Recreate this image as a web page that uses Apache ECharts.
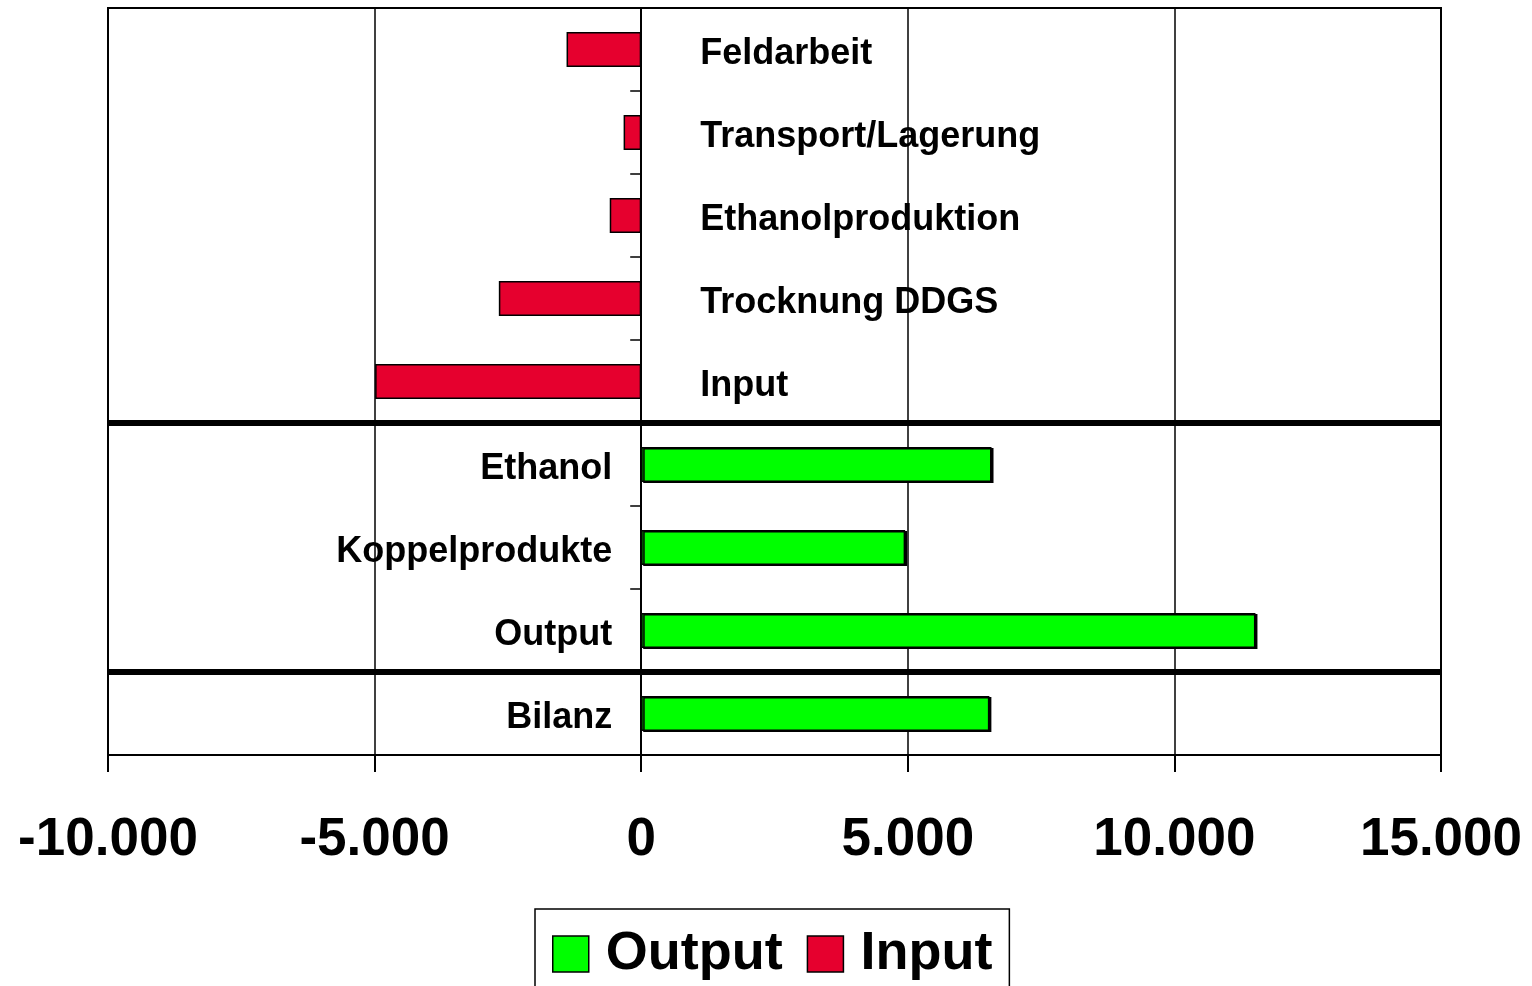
<!DOCTYPE html>
<html>
<head>
<meta charset="utf-8">
<script src="https://cdn.jsdelivr.net/npm/echarts@6/dist/echarts.min.js"></script>
<style>html,body{margin:0;padding:0;background:#fff}#c{width:1532px;height:986px}</style>
</head>
<body>
<div id="c"></div>
<script>
var categories = ['Feldarbeit','Transport/Lagerung','Ethanolproduktion','Trocknung DDGS','Input','Ethanol','Koppelprodukte','Output','Bilanz'];
var inputValues = [-1400, -330, -590, -2670, -4990, null, null, null, null];
var outputValues = [null, null, null, null, null, 6570, 4950, 11520, 6530];
var groupBreaks = [5, 8];
var xMin = -10000, xMax = 15000, xStep = 5000;

var FONT = "'Liberation Sans', Arial, Helvetica, sans-serif";
function fmt(v){
  var s = Math.abs(v).toString().replace(/\B(?=(\d{3})+(?!\d))/g, '.');
  return (v < 0 ? '-' : '') + s;
}

var chart = echarts.init(document.getElementById('c'));
chart.setOption({
  animation: false,
  backgroundColor: '#fff',
  grid: { left: 108, right: 91, top: 8, bottom: 231, show: true, borderColor: '#000', borderWidth: 2, backgroundColor: 'transparent' },
  legend: {
    data: ['Output', 'Input'],
    top: 909, left: 535,
    padding: [15, 17, 40, 17],
    itemWidth: 36, itemHeight: 36, itemGap: 24,
    borderColor: '#000', borderWidth: 1.5,
    icon: 'rect',
    itemStyle: { borderColor: '#000', borderWidth: 1.5 },
    textStyle: { fontFamily: FONT, fontSize: 54, fontWeight: 'bold', color: '#000', padding: [0, 0, 0, 12], lineHeight: 60 }
  },
  xAxis: {
    type: 'value', min: xMin, max: xMax, interval: xStep,
    axisLine: { show: true, onZero: false, lineStyle: { color: '#000', width: 2 } },
    axisTick: { show: true, length: 17, lineStyle: { color: '#000', width: 2 } },
    splitLine: { show: true, lineStyle: { color: '#000', width: 1.5 } },
    axisLabel: { formatter: fmt, fontFamily: FONT, fontSize: 53, fontWeight: 'bold', color: '#000', margin: 59 }
  },
  yAxis: [{
    type: 'category', data: categories, inverse: true,
    axisLine: { show: true, onZero: true, lineStyle: { color: '#000', width: 2 } },
    axisTick: { show: true, length: 11, lineStyle: { color: '#000', width: 1.5 } },
    axisLabel: { show: false },
    splitLine: { show: false }
  }, {
    type: 'value', min: 0, max: categories.length, inverse: true, show: false
  }],
  series: [{
    name: 'Output', type: 'bar', data: outputValues, barWidth: 35, barGap: '-100%',
    itemStyle: { color: '#00FF00', borderColor: '#000', borderWidth: 1.5, shadowColor: '#000', shadowOffsetX: 2, shadowOffsetY: 1, shadowBlur: 0 },
    label: { show: true, position: 'left', distance: 29, offset: [0, 5], formatter: '{b}', fontFamily: FONT, fontSize: 36, fontWeight: 'bold', color: '#000' }
  }, {
    name: 'Input', type: 'bar', data: inputValues, barWidth: 35, barGap: '-100%',
    itemStyle: { color: '#E6002E', borderColor: '#000', borderWidth: 1.5 },
    label: { show: true, position: 'right', distance: 59, offset: [0, 5], formatter: '{b}', fontFamily: FONT, fontSize: 36, fontWeight: 'bold', color: '#000' }
  }, {
    name: 'breaks', type: 'line', xAxisIndex: 0, yAxisIndex: 1, data: [], silent: true,
    markLine: {
      silent: true, symbol: 'none', animation: false,
      label: { show: false },
      lineStyle: { color: '#000', width: 6, type: 'solid' },
      data: groupBreaks.map(function(b){ return { yAxis: b }; })
    }
  }]
});
</script>
</body>
</html>
